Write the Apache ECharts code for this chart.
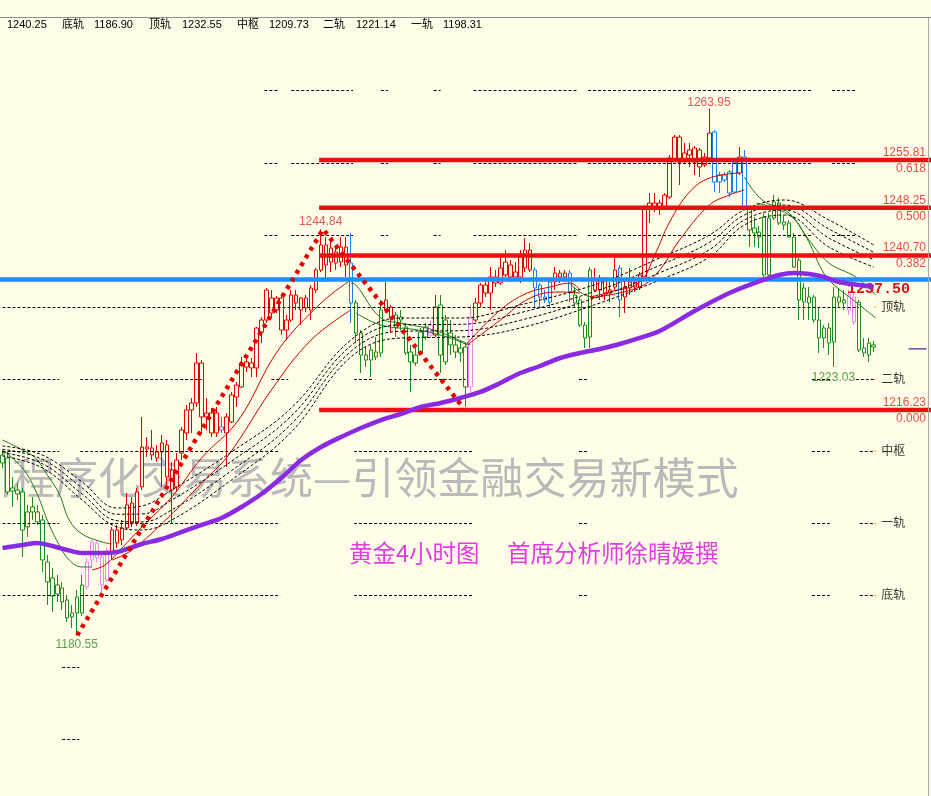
<!DOCTYPE html>
<html><head><meta charset="utf-8">
<script src="https://cdn.jsdelivr.net/npm/echarts@6/dist/echarts.min.js"></script>
<style>html,body{margin:0;padding:0;background:#fffde8;}#c{width:931px;height:796px;}</style>
</head><body><div id="c"></div>
<script>
const BG = '#fffde8';
// ---- candle data (4H gold) ----
const openP = [1209.10,1208.63,1203.88,1203.56,1203.25,1197.71,1200.08,1200.08,1198.81,1192.17,
1189.63,1187.10,1188.05,1186.15,1183.46,1184.09,1184.09,1188.21,1192.48,1192.80,
1188.52,1189.32,1193.59,1197.23,1195.65,1197.55,1201.51,1198.34,1204.04,1210.05,
1210.21,1209.58,1209.58,1210.69,1206.73,1204.04,1209.42,1212.59,1216.23,1217.34,
1223.67,1215.75,1212.59,1215.75,1213.06,1212.59,1214.33,1218.28,1219.87,1223.83,
1223.67,1222.88,1228.57,1230.47,1233.96,1232.06,1233.96,1228.89,1230.47,1234.43,
1232.06,1233.96,1232.06,1235.22,1238.39,1242.35,1239.66,1239.50,1239.66,1242.03,
1239.50,1233.17,1228.42,1224.93,1225.72,1224.62,1225.25,1233.64,1232.53,1231.27,
1230.47,1229.37,1223.83,1224.93,1225.25,1227.78,1228.10,1228.10,1232.85,1230.47,
1226.52,1226.52,1225.25,1226.20,1219.87,1230.47,1233.17,1236.01,1234.75,1236.33,
1236.33,1239.66,1239.18,1237.28,1237.28,1238.71,1241.56,1238.39,1234.11,1233.64,
1233.32,1236.49,1237.28,1237.91,1237.91,1234.43,1233.64,1229.68,1227.78,1235.22,
1235.22,1236.81,1235.22,1235.70,1238.71,1234.11,1235.54,1235.70,1235.70,1237.28,
1248.20,1248.36,1248.99,1248.36,1249.94,1255.80,1259.44,1255.80,1256.59,1255.48,
1257.39,1255.01,1256.12,1260.23,1252.32,1252.64,1253.90,1250.74,1253.75,1256.28,
1248.20,1244.25,1244.40,1246.78,1237.60,1246.62,1248.99,1245.99,1245.83,1243.61,
1239.97,1233.32,1234.11,1234.11,1230.47,1227.63,1229.21,1226.99,1233.32,1233.17,
1234.43,1234.11,1233.32,1225.25,1224.93,1226.20];
const closeP = [1207.84,1203.25,1203.40,1202.93,1197.23,1200.08,1200.87,1198.50,1192.48,1189.00,
1186.78,1188.52,1185.83,1183.30,1184.09,1186.62,1188.52,1192.17,1195.33,1195.17,
1192.96,1193.59,1197.23,1195.17,1197.55,1201.19,1198.34,1203.25,1210.37,1210.37,
1209.10,1208.63,1211.00,1205.62,1203.56,1208.31,1213.06,1216.23,1217.34,1223.67,
1215.12,1215.12,1215.75,1212.59,1213.54,1215.12,1218.60,1220.18,1223.67,1223.03,
1222.88,1229.21,1230.47,1235.22,1231.58,1233.96,1228.89,1230.47,1234.43,1233.17,
1233.96,1232.37,1235.54,1238.39,1242.35,1239.18,1241.87,1241.24,1242.03,1239.18,
1233.17,1228.42,1224.93,1224.14,1224.14,1225.41,1232.06,1232.06,1230.79,1229.21,
1230.95,1225.25,1225.41,1223.67,1228.57,1229.37,1229.68,1232.53,1224.93,1223.83,
1228.42,1225.41,1226.04,1219.87,1230.79,1233.17,1236.01,1234.75,1237.28,1237.28,
1238.71,1237.60,1237.28,1238.07,1240.45,1241.56,1238.39,1235.54,1236.01,1234.11,
1236.49,1237.91,1237.91,1237.28,1234.91,1233.17,1229.68,1227.63,1238.39,1236.81,
1237.12,1234.75,1234.75,1238.39,1233.64,1235.70,1236.49,1236.49,1237.60,1248.20,
1248.99,1248.99,1248.36,1250.26,1256.12,1259.44,1255.48,1256.91,1257.39,1257.70,
1254.70,1256.28,1260.07,1252.32,1253.43,1253.43,1250.58,1255.48,1256.28,1248.36,
1244.72,1245.04,1243.61,1237.60,1246.62,1249.15,1245.83,1245.51,1243.61,1238.86,
1233.64,1235.54,1233.17,1230.47,1227.63,1229.21,1226.83,1234.11,1234.11,1233.64,
1232.06,1230.16,1225.72,1226.04,1226.83,1226.52];
const lowP = [1207.05,1202.77,1200.87,1201.98,1192.96,1196.12,1198.81,1198.02,1190.58,1185.36,
1184.25,1185.83,1184.57,1182.67,1181.72,1180.55,1183.62,1187.73,1191.37,1192.17,
1187.26,1189.00,1192.48,1194.38,1194.86,1197.23,1197.71,1197.86,1203.56,1208.79,
1208.31,1208.00,1204.04,1204.04,1198.34,1203.25,1208.31,1211.48,1212.59,1216.70,
1212.59,1213.06,1211.95,1211.95,1212.59,1207.20,1214.17,1216.70,1219.71,1222.24,
1221.45,1221.45,1226.83,1230.00,1230.95,1231.58,1228.10,1227.31,1230.16,1232.06,
1229.68,1231.74,1230.47,1234.75,1238.07,1236.49,1238.07,1238.39,1238.86,1237.28,
1230.00,1226.83,1222.08,1223.03,1221.45,1224.14,1224.62,1231.58,1228.42,1227.78,
1228.89,1224.93,1219.08,1223.19,1224.93,1227.31,1227.63,1227.78,1222.08,1223.35,
1224.93,1224.46,1223.83,1216.70,1219.08,1230.16,1232.53,1234.11,1232.06,1235.70,
1236.01,1237.28,1236.49,1236.81,1236.33,1238.07,1238.07,1232.53,1232.53,1233.17,
1232.53,1235.22,1236.33,1236.49,1233.32,1232.37,1229.37,1226.04,1226.04,1234.91,
1233.64,1233.64,1233.32,1235.22,1230.95,1231.58,1234.43,1234.91,1235.22,1236.81,
1245.83,1247.57,1247.10,1248.20,1249.63,1255.48,1251.85,1255.33,1254.70,1253.43,
1253.11,1254.70,1255.48,1250.74,1250.58,1252.32,1249.94,1250.58,1253.43,1247.89,
1242.03,1242.03,1241.87,1237.28,1237.28,1246.30,1245.51,1244.72,1243.45,1238.71,
1230.47,1230.47,1230.47,1230.00,1225.25,1226.04,1224.93,1223.03,1232.53,1232.06,
1231.27,1229.68,1225.41,1224.62,1223.83,1225.41];
const highP = [1209.89,1209.58,1205.62,1204.67,1203.88,1201.19,1202.45,1201.19,1199.61,1193.27,
1191.22,1190.11,1189.00,1186.94,1185.36,1187.73,1190.11,1192.80,1195.65,1195.65,
1193.75,1194.38,1197.71,1198.02,1198.81,1203.09,1202.45,1203.88,1215.12,1211.95,
1213.06,1210.69,1212.27,1211.48,1208.00,1209.42,1213.54,1217.02,1218.13,1225.25,
1224.14,1218.13,1216.54,1216.70,1215.12,1215.75,1219.08,1220.66,1224.62,1224.93,
1224.46,1229.37,1230.95,1235.54,1235.22,1234.27,1234.43,1231.27,1235.22,1235.22,
1234.11,1234.43,1236.01,1238.71,1244.84,1243.61,1242.82,1242.03,1243.61,1243.61,
1244.25,1233.64,1228.89,1226.20,1226.52,1227.78,1233.64,1236.49,1232.85,1231.74,
1232.06,1230.00,1226.52,1226.04,1229.21,1230.00,1230.47,1234.43,1234.43,1231.27,
1230.47,1228.10,1227.31,1226.83,1232.85,1233.96,1236.33,1236.81,1238.86,1238.39,
1240.76,1241.56,1239.97,1239.66,1241.56,1243.45,1242.66,1238.86,1236.33,1235.22,
1236.81,1238.86,1238.39,1238.39,1238.39,1235.70,1234.11,1230.16,1238.86,1238.71,
1237.60,1237.28,1236.49,1240.29,1239.18,1237.12,1238.71,1237.28,1238.07,1248.68,
1250.58,1250.58,1249.47,1250.58,1256.59,1259.76,1259.76,1258.49,1258.49,1258.02,
1257.70,1256.91,1263.95,1260.55,1253.90,1253.90,1254.22,1255.80,1257.86,1257.39,
1248.68,1246.78,1245.35,1247.41,1247.41,1250.26,1249.79,1247.10,1246.30,1244.25,
1240.45,1236.33,1235.70,1234.43,1232.37,1229.68,1230.00,1235.70,1235.54,1235.22,
1235.22,1234.91,1233.64,1227.63,1227.63,1227.15];
// trend colour state per candle (runs): g=green, p=pink, r=red, b=blue
const trendRuns = [['g',17],['p',5],['r',22],['b',1],['r',25],['b',1],['g',6],['r',2],['g',7],['p',1],['r',1],['g',6],['p',1],['r',12],['b',4],['r',3],['b',1],['g',4],['r',5],['b',1],['r',18],['b',5],['r',1],['b',1],['g',20],['p',2],['g',4]];

// ---- indicator lines (x in bar index) ----
const purpleX = [0,4,7,10,13,16,20,23,25,28,32,36,40,44,48,52,56,60,64,68,72,76,80,84,88,92,96,100,104,108,112,116,120,124,128,132,139,146,151,156,159,162,165,168,172,175];
const purpleY = [1194.38,1194.86,1195.17,1194.70,1194.06,1193.59,1193.59,1193.75,1194.22,1195.01,1195.80,1196.91,1198.02,1199.13,1200.87,1202.93,1205.46,1208.31,1210.37,1211.95,1213.38,1214.64,1215.59,1216.70,1217.34,1218.13,1219.08,1220.50,1222.08,1223.19,1224.46,1225.25,1225.88,1226.67,1227.63,1228.73,1231.90,1234.75,1236.33,1237.60,1237.91,1237.75,1237.28,1236.49,1236.01,1235.70];

const green1aX = [0,4,6.6,9,11.4,13.4,16,20,22];
const green1aY = [1211.48,1209.89,1208.63,1205.94,1202.93,1198.81,1196.60,1195.33,1195.02];
const green1bX = [0,4,6.6,9.4,11.4,13.4,16,18];
const green1bY = [1209.89,1207.05,1203.56,1198.02,1194.86,1192.48,1191.37,1191.37];
const red1aX = [18,20.6,24,28,34,40,47.4,55.4,64,70];
const red1aY = [1190.90,1191.69,1194.38,1197.71,1202.45,1208.63,1214.64,1225.72,1233.17,1236.81];
const red1bX = [22,26,33.4,40,45.4,54,62,70];
const red1bY = [1192.48,1194.06,1199.29,1204.67,1209.10,1219.39,1227.31,1232.06];
const green2aX = [70,71,76,80,86.6,92.6,94];
const green2aY = [1236.33,1236.01,1230.79,1230.00,1228.89,1226.99,1226.52];
const green2bX = [71,76,83.4,90,93.4];
const green2bY = [1231.58,1229.68,1228.89,1227.63,1226.52];
const red2aX = [93.4,100,105.4,110,114,116];
const red2aY = [1226.83,1232.06,1234.75,1235.70,1236.33,1235.22];
const red2bX = [93.4,100,106,112,116];
const red2bY = [1226.52,1230.47,1233.96,1234.91,1234.75];
const green3X = [114,117,119];
const green3Y = [1236.17,1234.43,1234.11];
const red3aX = [118,122,128,131,134,138,142,148];
const red3aY = [1234.11,1234.91,1236.49,1240.76,1245.99,1250.74,1252.95,1253.75];
const red3bX = [118,128,132,136,142,146,149];
const red3bY = [1233.96,1235.70,1238.39,1243.14,1248.68,1250.26,1251.06];
const green4aX = [149,152.6,158,162,166,171.4,175.4];
const green4aY = [1253.11,1249.47,1247.41,1243.14,1239.50,1237.28,1234.43];
const green4bX = [151.4,158,161.4,164.6,166.6,171.4,175.4];
const green4bY = [1248.99,1247.10,1243.61,1238.39,1236.33,1233.32,1230.79];

const ribbonX = [0,8,16,23,28,34,46,58,70,80,92,104,120,132,142,149,157,166,175];
const ribbon1 = [1210.53,1209.10,1204.83,1200.71,1201.03,1203.56,1209.58,1216.54,1227.31,1230.79,1230.79,1232.85,1236.33,1240.29,1243.93,1247.89,1249.47,1246.30,1242.35];
const ribbon2 = [1210.01,1208.42,1203.88,1199.72,1199.76,1201.98,1208.11,1215.28,1226.41,1229.73,1229.79,1231.63,1235.27,1239.13,1242.77,1247.10,1248.68,1244.88,1241.19];
const ribbon3 = [1209.47,1207.73,1202.93,1198.70,1198.50,1200.40,1206.62,1214.01,1225.52,1228.69,1228.78,1230.43,1234.23,1237.96,1241.60,1246.30,1247.89,1243.45,1240.02];
const ribbon4 = [1208.95,1207.05,1201.98,1197.71,1197.23,1198.81,1205.15,1212.74,1224.62,1227.62,1227.78,1229.21,1233.17,1236.81,1240.45,1245.51,1247.10,1242.03,1238.86];

const zigzagX = [15,64.4,92.6];
const zigzagY = [1180.55,1244.84,1216.54];

const fibLevels = [1255.81,1248.25,1240.70,1216.23];
const fibRatios = ['0.618','0.500','0.382','0.000'];
const blueLevel = 1236.9;
const blueLabel = '1237.50';
const lastPrice = 1225.9;

const pivotLevels = [1266.78,1255.37,1243.96,1232.55,1221.14,1209.73,1198.31,1186.90,1175.49,1164.08];
const pivotNames = ['','','','顶轨','二轨','中枢','一轨','底轨','',''];
const headerVals = ['1240.25','1186.90','1232.55','1209.73','1221.14','1198.31'];
const headerNames = ['底轨','顶轨','中枢','二轨','一轨'];

const extremes = [[15,1180.55,'g'],[64,1244.84,'r'],[142,1263.95,'r'],[167,1223.03,'g']];

// ---- layout (not data) ----
const segA = [[52.6,55.6],[58,70.4],[76,77.4],[86.6,88],[94.6,115.4],[117.6,162.4],[166.6,171.4]];
const segTop = [[0,172]];
const segR5 = [[0,11.4],[15.6,40],[54,57.4],[70.6,74.6],[77.6,93],[115.8,117.6],[162.6,166.2],[171.4,175.2]];
const segB = [[0,11.4],[15.6,55.8],[70.6,94.4],[115.8,117.6],[162.6,166.2],[172.2,175.2]];
const segLow = [[12,15.4]];
const pivotSegs = [segA,segA,segA,segTop,segR5,segB,segB,segB,segLow,segLow];

const COL = {r:'#e00000', g:'#1c8c1c', b:'#1e7be8', p:'#ee84ee'};
const trend = [];
trendRuns.forEach(([c,n]) => { for (let k=0;k<n;k++) trend.push(c); });
const NC = 187;
const cats = Array.from({length: NC}, (_, i) => String(i));
const candleData = openP.map((o,i) => {
  const c = COL[trend[i]];
  return {value:[o, closeP[i], lowP[i], highP[i]], itemStyle:{color:BG, color0:c, borderColor:c, borderColor0:c, borderWidth:1}};
});

function ln(xs, ys, color, width, z, type, smooth) {
  return {type:'line', xAxisIndex:1, yAxisIndex:0, data: xs.map((x,i)=>[x, ys[i]]), symbol:'none',
    smooth: smooth === undefined ? 0.4 : smooth, lineStyle:{color, width, type: type || 'solid', cap:'butt'}, z, silent:true, animation:false};
}

const series = [];
// pivot dashed rows
pivotLevels.forEach((lvl, r) => {
  series.push({type:'line', xAxisIndex:1, yAxisIndex:0, data:[], z:1, silent:true,
    markLine:{symbol:['none','none'], silent:true, animation:false, label:{show:false},
      lineStyle:{type:[3,2], color:'#000', width:1},
      data: pivotSegs[r].map(s => [{coord:[s[0], lvl]}, {coord:[s[1], lvl]}])}});
});
series.push({type:'candlestick', xAxisIndex:0, yAxisIndex:0, data:candleData, barWidth:4, z:3, silent:true});
// thin MAs
const RT = '#d00000', GT = '#1a7a1a';
[[green1aX,green1aY,GT],[green1bX,green1bY,GT],[red1aX,red1aY,RT],[red1bX,red1bY,RT],
 [green2aX,green2aY,GT],[green2bX,green2bY,GT],[red2aX,red2aY,RT],[red2bX,red2bY,RT],
 [green3X,green3Y,GT],[red3aX,red3aY,RT],[red3bX,red3bY,RT],[green4aX,green4aY,GT],[green4bX,green4bY,GT]]
 .forEach(([x,y,c]) => series.push(ln(x,y,c,1,4)));
// dashed ribbon
[ribbon1,ribbon2,ribbon3,ribbon4].forEach(r => series.push(ln(ribbonX, r, '#000', 1, 4, [3,2], 0.4)));
// fib lines
fibLevels.forEach(l => series.push(ln([63.6,186.5],[l,l],'#e81010',4.5,5,'solid',false)));
series.push(ln([-0.5,186.5],[blueLevel,blueLevel],'#1e8fff',4.5,5,'solid',false));
series.push(ln([182,185.6],[lastPrice,lastPrice],'#000080',1,5,'solid',false));
// purple MA
series.push(ln(purpleX, purpleY, '#8a2be2', 4.5, 6, 'solid', 0.3));
// zigzag
series.push(ln(zigzagX, zigzagY, '#e00000', 4.5, 7, [4,5], false));

// labels
function lab(x, y, text, color, align, dy, font) {
  return {value:[x,y], label:{show:true, formatter:text, color, align, verticalAlign:'middle', position:[0,0], offset:[0,dy],
    fontSize: font || 12, fontFamily:'Liberation Sans, Arial, Noto Sans CJK SC, sans-serif'}};
}
const labels = [];
fibLevels.forEach((l,i) => {
  labels.push(lab(185.6, l, l.toFixed(2), '#e02020', 'right', -7));
  labels.push(lab(185.6, l, fibRatios[i], '#e02020', 'right', 9));
});
pivotLevels.forEach((l,i) => { if (pivotNames[i]) labels.push(lab(176.6, l, pivotNames[i], '#000', 'left', 1)); });
extremes.forEach(([x,v,c]) => {
  const col = c === 'g' ? '#2a8a2a' : '#d43030';
  const dy = x === 15 ? 10 : (x === 167 ? 11 : (x === 142 ? -5 : -7));
  labels.push(lab(x, v, v.toFixed(2), col, 'center', dy));
});
series.push({type:'scatter', xAxisIndex:1, yAxisIndex:0, symbolSize:1, itemStyle:{color:'rgba(0,0,0,0)'}, data:labels, z:8, silent:true, animation:false});
// small yellow dots before pivot names
series.push({type:'scatter', xAxisIndex:1, yAxisIndex:0, symbolSize:2, itemStyle:{color:'#d8c000'},
  data: pivotLevels.filter((l,i)=>pivotNames[i]).map(l=>[175.3,l]), z:8, silent:true, animation:false});

// header texts
const hx = [7,62,94,149,182,237,269,323,356,411,443];
const htexts = [headerVals[0], headerNames[0], headerVals[1], headerNames[1], headerVals[2], headerNames[2], headerVals[3], headerNames[3], headerVals[4], headerNames[4], headerVals[5]];
const graphics = [
  {type:'rect', shape:{x:0,y:17,width:931,height:1}, style:{fill:'#909090'}, z:10},
  {type:'rect', shape:{x:928,y:18,width:1,height:778}, style:{fill:'#a8a8a8'}, z:10},
  {type:'text', x:-31, y:478, z:0, style:{text:'川程序化交易系统—引领金融交易新模式', fill:'#b9b9b9', font:'43px "Noto Sans CJK SC"', verticalAlign:'middle'}},
  {type:'text', x:349, y:553, z:9, style:{text:'黄金4小时图', fill:'#e03ce0', font:'23.5px "Noto Sans CJK SC"', verticalAlign:'middle'}},
  {type:'text', x:507, y:553, z:9, style:{text:'首席分析师徐晴媛撰', fill:'#e03ce0', font:'23.5px "Noto Sans CJK SC"', verticalAlign:'middle'}},
  {type:'text', x:847, y:289, z:5, style:{text:blueLabel, fill:'#dd1111', font:'bold 15px "Liberation Mono"', verticalAlign:'middle'}}
];
htexts.forEach((t,i) => graphics.push({type:'text', x:hx[i], y:25, z:10,
  style:{text:t, fill:'#000', font:'11px "Liberation Sans", "Noto Sans CJK SC"', verticalAlign:'middle'}}));

const chart = echarts.init(document.getElementById('c'));
chart.setOption({
  animation:false,
  backgroundColor: BG,
  grid:{left:-2.5, top:0, width:935, height:796, containLabel:false},
  xAxis:[
    {type:'category', data:cats, boundaryGap:true, show:false},
    {type:'value', min:-0.5, max:186.5, show:false}
  ],
  yAxis:{type:'value', min:1155.11, max:1281.14, show:false, splitLine:{show:false}},
  graphic: graphics,
  series
});
</script></body></html>
